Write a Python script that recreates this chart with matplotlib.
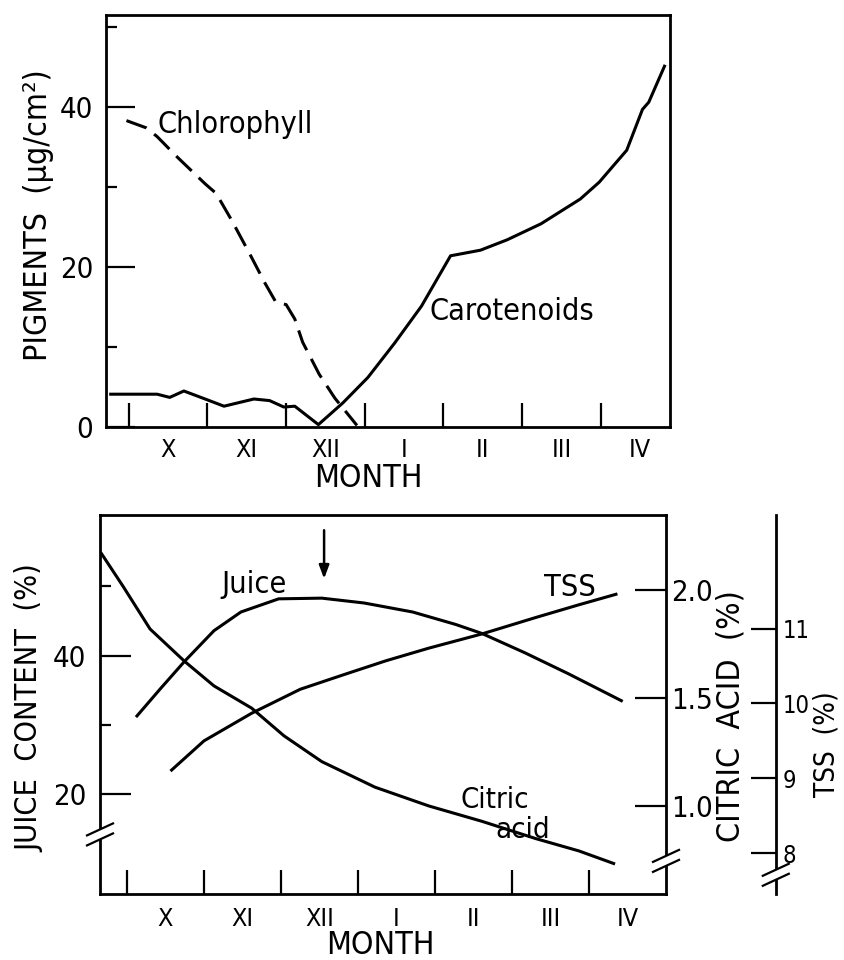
import matplotlib
matplotlib.use("Agg")
import matplotlib.pyplot as plt
from matplotlib.lines import Line2D
from matplotlib.transforms import blended_transform_factory

# x is in months: 0 = start of October (X) ... 7 = end of April (IV)
month_labels = ["X", "XI", "XII", "I", "II", "III", "IV"]

# upper panel, pigments (ug/cm2)
chl_x = [-0.03, 0.22, 0.36, 0.62, 0.97, 1.11, 1.31, 1.55, 1.73, 1.87, 2.00,
         2.11, 2.21, 2.42, 2.62, 2.90]
chl_y = [38.3, 37.4, 36.3, 33.7, 30.4, 29.2, 25.8, 21.4, 18.0, 15.6, 15.3,
         13.5, 10.6, 6.6, 3.6, 0.2]
car_x = [-0.23, 0.36, 0.52, 0.70, 0.97, 1.21, 1.59, 1.79, 1.97, 2.11, 2.41,
         2.72, 3.04, 3.38, 3.72, 4.09, 4.47, 4.81, 5.24, 5.74, 5.98, 6.33,
         6.53, 6.61, 6.81]
car_y = [4.1, 4.1, 3.7, 4.5, 3.5, 2.6, 3.5, 3.3, 2.5, 2.6, 0.3, 3.0, 6.2,
         10.5, 15.1, 21.4, 22.1, 23.4, 25.4, 28.5, 30.6, 34.6, 39.7, 40.6, 45.1]

# lower panel
juice_x = [0.13, 0.44, 0.75, 1.13, 1.48, 1.97, 2.53, 3.08, 3.71, 4.27, 4.61,
           5.17, 5.73, 6.42]
juice_y = [31.3, 35.3, 39.2, 43.6, 46.3, 48.2, 48.3, 47.6, 46.3, 44.5, 43.2,
           40.4, 37.4, 33.5]                      # juice content (%)
tss_x = [0.58, 1.00, 1.62, 2.25, 2.80, 3.36, 3.92, 4.61, 5.31, 5.87, 6.35]
tss_y = [9.11, 9.50, 9.87, 10.19, 10.38, 10.57, 10.74, 10.93, 11.15, 11.32,
         11.46]                                   # TSS (%)
citric_x = [-0.33, -0.05, 0.30, 0.75, 1.13, 1.62, 2.04, 2.53, 3.22, 3.92,
            4.61, 5.31, 5.87, 6.32]
citric_y = [2.167, 2.016, 1.819, 1.669, 1.556, 1.453, 1.325, 1.206, 1.088,
            1.001, 0.930, 0.850, 0.793, 0.735]    # citric acid (%)

harvest_month = 2.56          # arrow over the juice maximum
harvest_from, harvest_to = 58.1, 51.1

plt.rcParams["font.family"] = ["DejaVu Sans"]
plt.rcParams["font.stretch"] = "condensed"
plt.rcParams["axes.linewidth"] = 2.0

LW = 2.2
W, H = 845, 960
fig = plt.figure(figsize=(W / 100, H / 100), dpi=100)


def month_axis(ax, tick_len, pad):
    ax.set_xticks(range(len(month_labels)))
    ax.set_xticklabels([])
    ax.set_xticks([i + 0.5 for i in range(len(month_labels))], minor=True)
    ax.set_xticklabels(month_labels, minor=True)
    ax.tick_params(axis="x", which="major", direction="in", length=tick_len,
                   width=1.6)
    ax.tick_params(axis="x", which="minor", length=0, pad=pad, labelsize=18)


def axis_break(ax_x, x_frac, ax_y, y_val):
    """two parallel slashes across a spine, with the spine cut between them"""
    tr = blended_transform_factory(ax_x.transAxes, ax_y.transData)
    cx, cy = tr.transform((x_frac, y_val))
    inv = fig.transFigure.inverted()

    def seg(p, q, **kw):
        a = inv.transform(p)
        b = inv.transform(q)
        fig.add_artist(Line2D([a[0], b[0]], [a[1], b[1]],
                              transform=fig.transFigure, **kw))

    seg((cx, cy - 5), (cx, cy + 5), color="white", lw=4, solid_capstyle="butt")
    for dy in (-5, 5):
        seg((cx - 13, cy + dy - 6), (cx + 13, cy + dy + 6), color="black",
            lw=1.6)


# ---------------- upper panel ----------------
ax1 = fig.add_axes([106 / W, 1 - 427 / H, 564 / W, 412 / H])
ax1.plot(chl_x, chl_y, color="black", lw=LW, dashes=(7, 3.2))
ax1.plot(car_x, car_y, color="black", lw=LW)
ax1.set_xlim(-0.29, 6.88)
ax1.set_ylim(0, 51.5)
month_axis(ax1, 17, 8)
ax1.set_yticks([0, 20, 40])
ax1.set_yticks([10, 30, 50], minor=True)
ax1.tick_params(axis="y", which="major", direction="in", length=21, width=1.6,
                pad=9, labelsize=21)
ax1.tick_params(axis="y", which="minor", direction="in", length=8, width=1.6)
ax1.text(0.36, 37.8, "Chlorophyll", fontsize=22, ha="left", va="center")
ax1.text(3.82, 14.5, "Carotenoids", fontsize=22, ha="left", va="center")
ax1.text(-0.119, 0.515, "PIGMENTS  (\u03bcg/cm\u00b2)", fontsize=23,
         rotation=90, ha="center", va="center", transform=ax1.transAxes)
ax1.text(0.465, -0.124, "MONTH", fontsize=23, ha="center", va="center",
         transform=ax1.transAxes)

# ---------------- lower panel ----------------
ax2 = fig.add_axes([100 / W, 1 - 894 / H, 566 / W, 379 / H])
ax2.set_xlim(-0.35, 7.0)
ax2.set_ylim(5.6, 60.3)
ax2.spines["right"].set_visible(False)
ax2.plot(juice_x, juice_y, color="black", lw=LW)
month_axis(ax2, 17, 9)
ax2.set_yticks([20, 40])
ax2.set_yticks([30, 50], minor=True)
ax2.tick_params(axis="y", which="major", direction="in", length=22, width=1.6,
                pad=10, labelsize=21)
ax2.tick_params(axis="y", which="minor", direction="in", length=8, width=1.6)
ax2.annotate("", xy=(harvest_month, harvest_to),
             xytext=(harvest_month, harvest_from),
             arrowprops=dict(arrowstyle="-|>,head_length=0.8,head_width=0.3",
                             lw=1.8, color="black", shrinkA=0, shrinkB=0))
ax2.text(1.22, 49.1, "Juice", fontsize=22, ha="left", va="baseline")
ax2.text(5.42, 48.6, "TSS", fontsize=22, ha="left", va="baseline")
ax2.text(4.33, 18.0, "Citric", fontsize=21, ha="left", va="baseline")
ax2.text(4.78, 13.7, "acid", fontsize=21, ha="left", va="baseline")
ax2.text(-0.124, 0.491, "JUICE  CONTENT  (%)", fontsize=22, rotation=90,
         ha="center", va="center", transform=ax2.transAxes)
ax2.text(0.495, -0.135, "MONTH", fontsize=23, ha="center", va="center",
         transform=ax2.transAxes)

# citric acid axis on the right frame
axc = ax2.twinx()
axc.set_ylim(0.594, 2.346)
for s in ("left", "top", "bottom"):
    axc.spines[s].set_visible(False)
axc.plot(citric_x, citric_y, color="black", lw=LW)
axc.set_yticks([1.0, 1.5, 2.0])
axc.set_yticklabels(["1.0", "1.5", "2.0"])
axc.tick_params(axis="y", direction="in", length=22, width=1.6, pad=4,
                labelsize=21)
axc.text(1.115, 0.47, "CITRIC  ACID  (%)", fontsize=23, rotation=90,
         ha="center", va="center", transform=axc.transAxes)

# separate TSS axis further right
axt = ax2.twinx()
axt.set_ylim(7.453, 12.52)
for s in ("left", "top", "bottom"):
    axt.spines[s].set_visible(False)
axt.spines["right"].set_position(("axes", 1.194))
axt.plot(tss_x, tss_y, color="black", lw=LW)
axt.set_yticks([8, 9, 10, 11])
axt.tick_params(axis="y", direction="in", length=18, width=1.6, pad=5,
                labelsize=17)
axt.text(1.284, 0.395, "TSS  (%)", fontsize=20, rotation=90,
         ha="center", va="center", transform=axt.transAxes)

axis_break(ax2, 0.0, ax2, 14.2)
axis_break(ax2, 1.0, axc, 0.747)
axis_break(ax2, 1.194, axt, 7.71)

fig.savefig("out.png", dpi=100)
